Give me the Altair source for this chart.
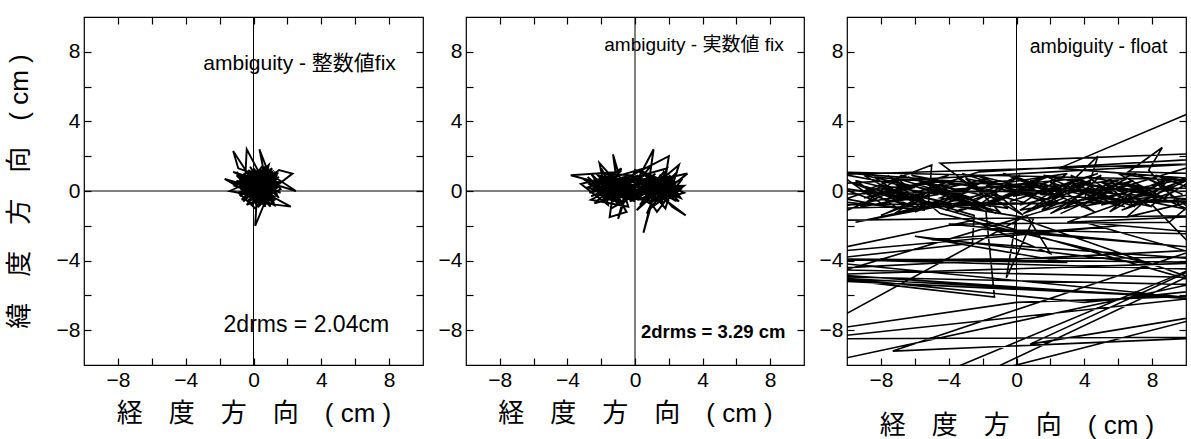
import altair as alt
import pandas as pd

# ---------------- data (cm) ----------------
# panel 1: ambiguity - integer fix (trace, in order)
p1_x = [0.2, -0.6, 1.1, 0.4, -0.9, 1.3, 0.0, 0.8, -0.5, 1.5,
        0.3, -1.0, 0.9, -0.2, 1.2, -0.7, 0.6, 1.4, -0.3, 0.1,
        1.0, -0.8, 0.5, 1.6, -0.4, 0.7, -1.2, 1.1, 0.2, -0.6,
        1.3, 0.0, -1.7, 0.4, 0.9, -0.3, 1.2, -0.9, -1.2, 0.6,
        0.3, 1.0, -0.5, -0.4, 0.8, 0.35, 0.9, -0.1, 1.5, 2.3,
        0.7, -0.6, 1.2, 0.1, -0.9, 1.4, 2.5, 0.5, -0.2, 1.1,
        -0.7, 0.6, 2.2, 0.3, -0.5, 0.9, 0.1, 0.2, -1.0, 1.3,
        -1.4, 0.4, 1.0, -0.3, 0.7, 0.1, -0.8, 1.2, 0.2, 0.6,
        -0.6, 1.5, 0.0, 0.8, -0.3, 1.1, 0.4, -0.9, 0.9, 0.2,
        1.3, 0.5]
p1_y = [0.4, 1.0, -0.3, 1.2, 0.2, 0.8, -0.7, 1.3, -0.4, 0.3,
        -0.9, 0.6, -0.5, 1.4, -0.8, 0.1, 1.0, -0.2, 0.8, -0.6,
        0.9, -0.3, 1.4, 0.1, -0.8, 0.5, 1.1, 0.0, 1.1, -0.6,
        1.1, 0.2, 0.7, -0.5, 1.5, 0.3, 0.6, 1.3, 2.3, -0.4,
        0.9, -0.9, 0.5, 2.4, 0.2, 2.4, 1.0, -0.2, 1.2, 1.0,
        -0.2, 0.9, 0.3, -1.0, -0.1, 0.7, 0.0, 0.6, -0.5, 1.3,
        0.4, -0.7, -0.9, 0.1, 1.2, -0.1, -2.0, -0.3, 0.9, -0.5,
        0.0, 0.8, 0.4, -0.2, 1.1, 0.5, 0.7, -0.3, -0.6, 1.3,
        0.0, 0.5, 0.9, -0.5, 0.6, 0.7, -0.2, 0.4, 0.6, 1.0,
        0.1, 0.3]
p1_x_core = [0.1, 0.9, -0.4, 0.6, 1.4, -0.2, 0.5, -0.8, 0.3, 1.2,
             -0.5, 0.8, -0.1, 1.0, 0.0, 1.6, 0.4, -0.9, 0.7, 0.2,
             -0.6, 1.3, 0.5, -0.3, 1.1, -0.7, 0.6, 1.5, 0.0, 0.9,
             -1.1, 0.4, 1.2, -0.4, 0.7, -0.2, 1.4, 0.3, -0.6, 1.0,
             0.1, -1.0, 0.8, 0.5, -0.5, 1.3, 0.2, -0.3, 1.1, 0.6,
             -0.8, 0.9, 0.0, 1.5, -0.2, 0.7, 1.2, -0.5, 0.4, -1.2,
             1.0, 0.3, -0.1, 1.4, 0.5, -0.7, 0.8, 0.1, 1.2, -0.4]
p1_y_core = [0.2, 0.9, 0.1, -0.6, 0.4, 1.0, -0.1, 0.6, 1.2, -0.5,
             -0.3, 0.6, -0.8, 1.2, 0.5, -0.1, 0.4, 0.9, -0.9, 0.7,
             -0.1, 0.9, -0.4, 1.2, 0.2, -0.5, 0.8, -0.4, 1.3, -0.3,
             0.3, 1.0, -0.1, -0.6, 0.3, 0.8, 1.0, -0.7, 0.5, 0.5,
             -0.4, 1.1, -0.6, 1.2, 0.0, 0.3, -0.9, 0.4, 1.1, 0.0,
             -0.2, 0.8, -0.3, 0.8, 0.2, 1.4, -0.7, 0.8, 0.0, 0.5,
             -0.2, 0.6, 1.1, -0.3, 0.9, 0.2, -0.2, 0.9, 0.6, -0.3]

# panel 2: ambiguity - real-valued fix
p2_x = [-2.5, -1.2, -2.8, -0.6, -2.0, -0.3, -1.7, 0.4, -2.3, -0.9,
        -3.8, -1.5, 0.2, -2.6, -0.4, -1.3, -1.0, 0.8, -1.9, -0.1,
        1.2, -0.7, -2.2, 0.6, -1.4, 1.5, 0.0, -1.0, -0.5, 1.0,
        0.3, 1.9, -0.2, 1.1, 0.7, 2.3, 0.1, 1.4, -0.8, 2.0,
        1.6, 0.5, 2.6, 0.9, 0.5, 1.1, 2.8, 1.3, 0.2, 3.1,
        1.8, 0.6, 2.2, 3.0, 1.5, 2.4, 0.8, 2.7, 1.7, 0.4,
        2.1, 1.0, 2.9, 1.2, -0.3, 1.9, 0.7, 2.5, 1.4, -0.6,
        0.9, -1.6, 0.0, -2.4, -0.8, -1.8, -0.2, -2.9, -1.1, -2.0,
        -0.5, -1.5, -1.2, -2.7, -0.9, -2.1, -1.6, -3.2, -1.3, -0.4,
        -2.4, -1.0, 0.3, 1.6, 2.3, 1.0, 2.6, 1.8, 0.5, -0.7,
        -1.9, -2.6, -1.4, 0.1, 1.3, 2.1, 2.9]
p2_y = [0.6, -0.4, 0.2, 0.8, -0.6, 0.4, 1.0, -0.5, -0.2, 1.1,
        0.9, 0.3, 0.9, -0.5, -0.9, 2.1, 0.0, 0.7, 0.5, -0.3,
        1.0, -0.7, 0.9, 0.1, -1.0, 0.6, 1.2, -1.6, 0.2, -0.8,
        0.6, -0.2, 0.0, 2.4, -0.3, 0.8, -1.1, 0.3, 0.6, 2.0,
        -0.6, 1.1, 0.2, -1.0, -2.4, -0.1, 0.7, -1.2, 0.4, 1.0,
        0.0, 0.9, -0.9, -1.4, -0.3, 0.5, 0.3, -0.4, 1.1, -0.7,
        0.3, 0.8, -0.1, -0.6, 0.7, 1.3, -1.3, 1.1, 0.1, -0.4,
        1.4, 0.7, -0.6, 0.3, 1.3, -0.3, 0.5, 0.6, -0.5, 1.3,
        -1.2, -1.5, 0.6, -0.1, 0.3, 1.6, -0.8, 0.4, 0.9, -0.2,
        -0.7, 0.5, -0.1, 0.8, -0.5, 0.2, 1.5, -1.0, 0.5, 0.1,
        0.0, 1.0, -0.2, 0.2, 0.5, -0.3, 0.3]
p2_x_core = [-1.8, -0.6, -2.2, -1.0, -2.7, -1.3, -0.2, -1.6, 0.4, -0.8,
             0.9, -0.3, 1.3, 0.2, 1.7, 0.6, 2.2, 1.0, 2.5, 1.5,
             0.3, 1.9, 0.7, 2.4, 1.1, 2.7, 1.6, 0.5, 2.0, 0.8,
             -0.5, -1.9, -0.7, -2.4, -1.1, -2.1, -0.4, -1.4, 0.1, -2.6,
             -1.2, 0.0, -1.7, -0.9, -2.3, -0.1, 1.2, 0.4, 1.8, 0.9,
             2.3, 1.4, 2.6, 1.0, 2.1, 0.6, 1.7, -0.6, -2.0, -1.5,
             -2.8, -0.9, -1.8, -0.3, 0.7, 1.5, 2.4, 0.2, -1.3, -2.5]
p2_y_core = [0.2, 0.6, -0.3, 0.9, 0.4, -0.6, 0.3, 0.8, -0.4, 0.0,
             0.6, -0.6, 0.2, 0.8, -0.5, 0.4, 0.6, -0.4, -0.2, 0.9,
             -0.8, 0.4, -0.1, 0.9, 0.5, 0.1, -0.7, 0.2, -0.6, 1.0,
             0.4, -0.6, 0.8, 0.1, -0.2, 0.7, -0.4, 0.5, 0.7, -0.3,
             0.2, -0.2, -0.1, 0.7, 0.5, 0.1, -0.2, 0.6, 0.7, -0.7,
             0.2, 0.6, -0.6, 0.0, 0.9, -0.5, 0.3, -0.2, 0.4, -0.4,
             0.8, -0.8, 1.0, 0.9, 0.4, -0.3, 0.4, -0.5, 0.0, 0.2]

# panel 3: ambiguity - float
p3_x = [-12.0, 11.5, -11.0, -8.5, -10.2, -6.5, -9.0, -5.0, -5.2, -7.5,
        -3.5, -6.0, -2.0, -4.5, -0.5, -3.0, 0.5, -1.5, 1.8, -0.5,
        2.5, 0.8, 3.8, 1.5, 4.8, 4.0, 6.5, 3.2, 7.0, 5.2,
        8.5, 6.0, 9.5, 7.5, 11.0, 8.2, 12.0, -11.5, -7.0, -9.5,
        -4.0, -7.8, -2.5, -2.6, -11.0, 12.0, -11.0, 12.0, -12.0, 11.0,
        8.0, 10.5, 2.5, 10.5, 12.0, -4.5, -2.0, -9.5, -3.0, -1.8,
        -1.3, -12.0, 11.5, 0.0, -0.6, 1.0, -10.5, -5.5, -8.0, -3.8,
        -6.2, -1.2, -4.2, 0.2, -2.2, 1.2, -0.8, 2.8, 0.4, 3.5,
        1.8, 5.0, 2.8, 5.8, 4.2, 7.2, 5.5, 8.8, 6.8, 9.8,
        7.8, 8.6, 6.6, 11.0, 3.0, 12.0, -12.0, -10.0, -12.0, 12.0,
        -11.0, 12.0, 9.0, -4.0, 10.0, -2.0, 12.0, 4.0, 12.0, -5.0,
        6.0, -12.0, -2.6, 2.0, 0.6, -12.0, 0.0, 12.0, -12.0, 12.0,
        -7.3, 10.5, -12.0, 12.0, -12.0, -4.0, 12.0, 0.8, 12.0, -2.0,
        11.0, -12.0, 3.0, -6.0, 8.0, -4.5, -7.0, -2.8, -5.8, -1.0,
        -3.2, 1.0, -1.8, 3.0, 0.2, 4.5, 2.0, 6.2, 3.8, 7.8,
        5.0, 9.2, 6.5, 10.8, -11.0, -6.8, -9.0, -4.8, -8.2, -2.2,
        12.0, -12.0, 12.0, -10.5, 4.0, 12.0]
p3_y = [0.9, 1.6, 0.4, -0.5, -1.2, 0.3, 0.0, 1.5, -0.8, 0.6,
        -0.3, -1.2, 0.5, -0.4, -1.0, 0.7, 0.1, -0.6, 0.8, 0.2,
        -0.7, 0.6, -0.2, -1.1, 2.0, -0.5, 0.7, 0.3, -0.9, 0.4,
        -0.3, 1.0, 0.5, -0.6, -0.1, 0.9, 0.2, -0.2, -1.0, 0.6,
        -0.7, 0.1, -1.4, -3.0, -3.9, -4.1, -4.8, -6.3, -4.0, -3.8,
        -0.8, 0.7, 1.3, 4.6, 2.2, 1.6, -0.2, -1.8, -0.6, -1.2,
        -6.1, -4.9, -5.4, -1.5, -5.0, -1.6, 0.2, -0.5, -1.4, 0.4,
        0.9, 0.0, -1.1, 0.9, -0.8, 0.4, 1.0, -0.4, -1.3, 0.6,
        -0.5, 0.9, -1.0, -0.2, 0.8, 0.3, -1.2, 0.6, -0.4, -1.0,
        1.2, 2.5, 1.1, 1.0, -1.8, -1.4, -1.7, -1.9, -0.8, -0.6,
        1.1, 0.6, -1.8, -1.9, -3.2, -2.2, -2.5, -1.8, -4.0, -2.8,
        -2.0, -3.6, -1.7, -3.6, -1.4, -8.1, -6.4, -6.0, -8.5, -8.4,
        -9.2, -3.4, -4.5, -5.0, -10.0, -10.3, -3.8, -8.8, -7.0, -10.5,
        -4.5, -3.9, -4.1, -2.6, -4.2, -1.3, 0.7, -0.5, 0.2, -1.2,
        1.0, -0.3, 0.3, 1.0, -0.8, 0.2, -1.3, 0.5, -0.9, -0.2,
        -0.8, 0.8, -1.5, -0.5, -1.0, -0.3, 0.9, 0.0, -0.8, 1.1,
        1.9, -5.1, -6.2, -5.0, -6.4, -5.6]
p3_x_band = [-9.8, -6.0, -8.8, -4.2, -7.2, -3.0, -6.4, -1.5, -4.8, -0.2,
             -3.6, 1.0, -2.4, 2.2, -1.0, 3.5, 0.2, 4.6, 1.6, 5.8,
             2.6, 6.9, 4.2, 8.0, 5.0, 9.4, 6.2, 10.5, 7.4, 4.4,
             8.6, 3.0, 6.0, 1.4, 4.8, -0.4, 2.4, -2.8, 0.6, -4.4,
             -1.8, -6.6, -3.2, -8.4, -5.4, -10.5, -7.8, -4.6, -9.2, -6.8,
             -2.6, -5.6, -1.2, -3.8, 0.8, -2.0, 2.6, -0.2, 4.0, 1.2,
             5.4, 3.2, 7.2, 5.4, 8.8, 6.6, 10.5, 8.0, 9.8, 7.0,
             3.6, 6.4, 2.0, 4.6, 0.0, 2.8, -1.4, 0.4, -3.4, -0.8,
             -5.0, -2.2, -7.0, -4.0, -9.0, -6.0, -10.5, -8.0, -5.8, -7.6]
p3_y_band = [0.5, -0.9, -0.2, 0.6, -1.3, -0.1, 0.8, -0.9, 0.3, 0.6,
             -1.2, 0.1, 0.9, -0.8, 0.3, 0.7, -1.1, -0.4, 0.9, 0.1,
             -1.3, 0.6, -0.1, -0.9, 0.5, 0.0, -1.1, 0.8, 0.2, -0.7,
             -0.3, 0.5, -0.5, -0.2, 1.0, -0.6, 0.3, 0.2, -0.7, -0.9,
             0.7, -0.4, 0.4, 0.8, -1.1, -0.6, 0.3, -0.2, -0.9, 0.9,
             -0.4, 0.5, -1.3, 0.1, 0.4, -0.9, 0.8, -0.3, 0.3, -0.9,
             -0.3, 0.9, -0.8, 0.7, -0.5, 0.4, -1.2, 0.6, -0.2, 1.0,
             -0.3, -0.9, 0.5, -1.2, 0.8, -0.2, 0.0, -1.4, 0.7, -0.5,
             0.4, -1.1, 0.0, 0.9, -0.4, 0.2, 1.0, -0.7, -0.2, 0.9]

tick_values = [-8, -6, -4, -2, 0, 2, 4, 6, 8]
x_title = "経　度　方　向　(  cm )"
y_title = "緯　度　方　向　(  cm )"

LATIN = "Liberation Sans"
MIXED = "Liberation Sans, Noto Sans CJK JP"
LABEL_EXPR = "datum.value % 4 === 0 ? datum.label : ''"

one = pd.DataFrame({"k": [0]})


def sc():
    return alt.Scale(domain=[-10, 10], nice=False, zero=False)


def tick_style():
    return dict(values=tick_values, tickSize=7, offset=-7, domain=False,
                grid=False, tickColor="black", tickWidth=1.2)


def panel(xs, ys, notes, with_ytitle, xtitle_pad, width, line_w):
    df = pd.DataFrame({"x": xs, "y": ys, "i": list(range(len(xs)))})
    xaxis = alt.Axis(orient="bottom", labelExpr=LABEL_EXPR, labelFont=LATIN,
                     labelFontSize=21, labelColor="black", labelPadding=4,
                     title=x_title, titleFont=MIXED, titleFontSize=26,
                     titleFontWeight="normal", titleColor="black",
                     titlePadding=xtitle_pad, **tick_style())
    ykw = dict(orient="left", labelExpr=LABEL_EXPR, labelFont=LATIN,
               labelFontSize=21, labelColor="black", labelPadding=4,
               **tick_style())
    if with_ytitle:
        ykw.update(title=y_title, titleFont=MIXED, titleFontSize=26,
                   titleFontWeight="normal", titleColor="black", titlePadding=24)
    else:
        ykw.update(title=None)

    line = alt.Chart(df).mark_line(color="black", strokeWidth=line_w, clip=True).encode(
        x=alt.X("x:Q", scale=sc(), axis=xaxis),
        y=alt.Y("y:Q", scale=sc(), axis=alt.Axis(**ykw)),
        order=alt.Order("i:Q"),
    )
    vrule = alt.Chart(one).mark_rule(color="black", strokeWidth=1).encode(
        x=alt.XDatum(0, type="quantitative", scale=sc(),
                     axis=alt.Axis(orient="top", labels=False, title=None, **tick_style()))
    )
    hrule = alt.Chart(one).mark_rule(color="black", strokeWidth=1).encode(
        y=alt.YDatum(0, type="quantitative", scale=sc(),
                     axis=alt.Axis(orient="right", labels=False, title=None, **tick_style()))
    )
    layers = [line, vrule, hrule]
    for (t, tx, ty, fs, fw) in notes:
        layers.append(
            alt.Chart(one).mark_text(text=t, align="right", baseline="middle", font=MIXED,
                                     fontSize=fs, fontWeight=fw, color="black").encode(
                x=alt.XDatum(tx, type="quantitative", scale=sc(), axis=None),
                y=alt.YDatum(ty, type="quantitative", scale=sc(), axis=None),
            )
        )
    return alt.layer(*layers).resolve_axis(x="independent", y="independent").properties(
        width=width, height=348)


p1 = panel(p1_x + p1_x_core, p1_y + p1_y_core,
           [("ambiguity - 整数値fix", 8.4, 7.3, 21, "normal"),
            ("2drms = 2.04cm", 8.0, -7.7, 23, "normal")],
           True, 10, 339, 1.9)
p2 = panel(p2_x + p2_x_core, p2_y + p2_y_core,
           [("ambiguity - 実数値 fix", 8.8, 8.4, 19, "normal"),
            ("2drms = 3.29 cm", 8.9, -8.1, 18.5, "bold")],
           False, 10, 338, 2.0)
p3 = panel(p3_x + p3_x_band, p3_y + p3_y_band,
           [("ambiguity - float", 8.9, 8.3, 19.5, "normal")],
           False, 22, 339, 1.6)

chart = alt.hconcat(p1, p2, p3, spacing=43, bounds="flush").properties(
    padding={"left": 5, "top": 15, "right": 0, "bottom": 0},
    background="white",
).configure_view(stroke="black", strokeWidth=1.2)

chart.save("out.html", embed_options={"renderer": "svg", "actions": False})
